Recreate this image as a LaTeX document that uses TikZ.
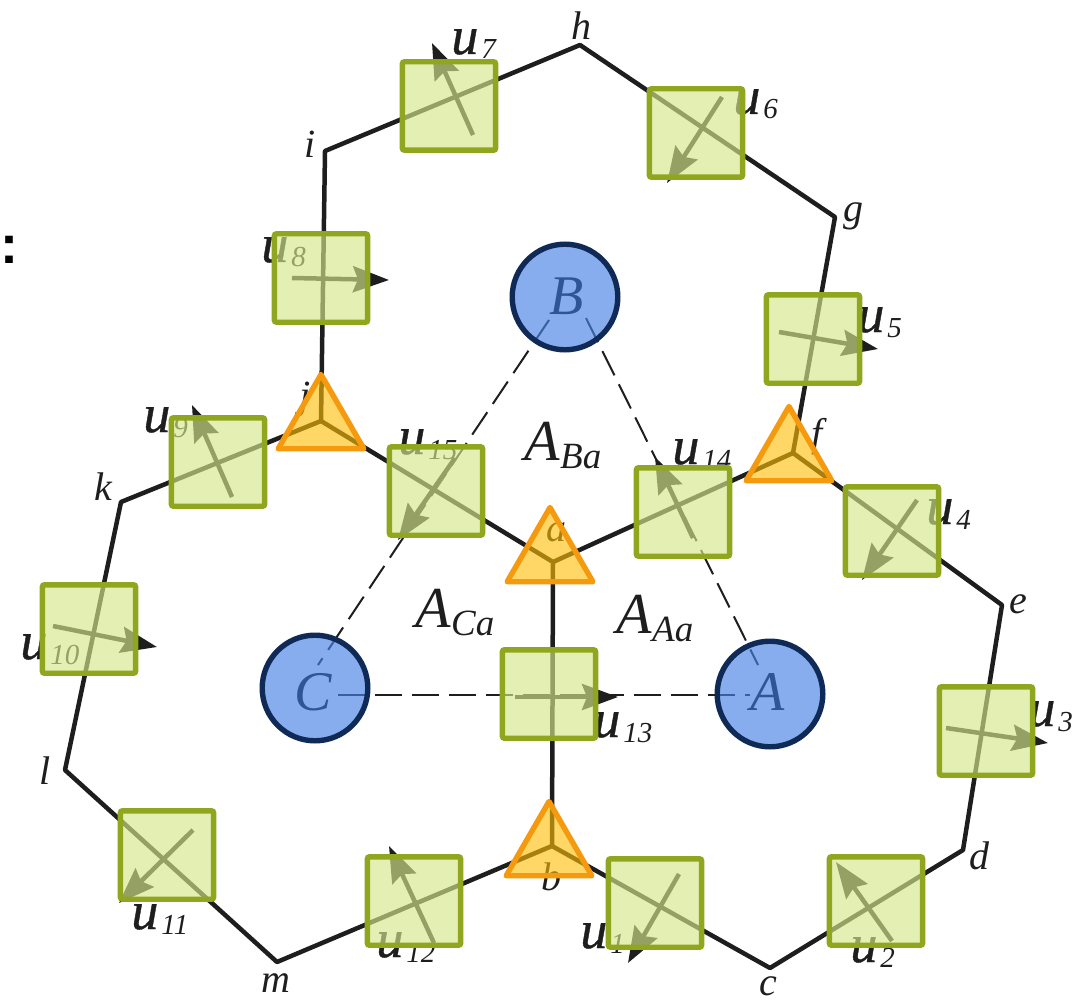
\documentclass[tikz,border=0pt]{standalone}
\usepackage{fontspec}
\setmainfont{Liberation Serif}
\setsansfont{Liberation Sans}
\newfontfamily\ufont[ItalicFeatures={FakeBold=0.7}]{Liberation Serif}
\usepackage{xcolor}
\usetikzlibrary{positioning,arrows.meta,shapes.geometric}
\definecolor{encre}{RGB}{30,30,30}
\definecolor{olive}{RGB}{143,166,30}
\definecolor{tilleul}{RGB}{212,231,138}
\definecolor{ambre}{RGB}{245,154,15}
\definecolor{miel}{RGB}{255,190,5}
\definecolor{marine}{RGB}{15,42,87}
\definecolor{azur}{RGB}{72,130,230}
\newcommand{\ulab}[1]{{\fontsize{27}{27}\selectfont\ufont\itshape u}\hspace{1.5pt}{\fontsize{14.5}{15}\selectfont\itshape\raisebox{-2.5pt}{#1}}}
\newcommand{\alab}[1]{{\fontsize{29}{29}\selectfont\itshape A}{\fontsize{18.5}{19}\selectfont\itshape\raisebox{-4pt}{#1}}}

\begin{document}
\begin{tikzpicture}[x=0.5pt, y=-0.5pt,
  tr/.style={line width=2.25pt, draw=encre, line join=round},
  ti/.style={dash pattern=on 13.5pt off 5pt, line width=1pt, draw=encre},
  fl/.style={-{Stealth[length=18pt,width=13pt,inset=2.5pt]}, line width=2.25pt, draw=encre},
  lab/.style={font=\fontsize{20}{20}\selectfont\itshape, text=encre, inner sep=0pt},
  ul/.style={anchor=base west, text=encre, inner sep=0pt},
  sq/.style={rectangle, draw=olive, fill=tilleul, fill opacity=0.65, line width=2.7pt,
             rounded corners=1pt, minimum width=46.6pt, minimum height=44.2pt, inner sep=0pt, outer sep=0pt},
  tg/.style={regular polygon, regular polygon sides=3, draw=ambre, fill=miel, fill opacity=0.61,
             line width=2.7pt, line join=round, minimum size=49.5pt, inner sep=0pt, outer sep=0pt},
  ci/.style={circle, draw=marine, fill=azur, fill opacity=0.655, line width=2.7pt,
             minimum size=52.8pt, inner sep=0pt, outer sep=0pt}]
\useasboundingbox (0,0) rectangle (1081,1000);

% sommets du contour
\coordinate (h) at (580,45);
\coordinate (g) at (835,217);
\coordinate (f) at (793,453);
\coordinate (e) at (1002,605);
\coordinate (d) at (963,850);
\coordinate (c) at (770,968);
\coordinate (b) at (552,846);
\coordinate (m) at (277,962);
\coordinate (l) at (65,770);
\coordinate (k) at (121,502);
\coordinate (j) at (321,421);
\coordinate (i) at (325,151);
\coordinate (a) at (553,562);

% contour et branches
\draw[tr] (h) -- (g) -- (f) -- (e) -- (d) -- (c) -- (b) -- (m) -- (l) -- (k) -- (j) -- (i) -- cycle;
\draw[tr] (j) -- (a) -- (f);
\draw[tr] (a) -- (b);

% pointilles entre B, C et A
\coordinate (dBC) at (549,320);
\coordinate (dCB) at (318,665);
\coordinate (dBA) at (586,318);
\coordinate (dAB) at (758,665);
\coordinate (dCA) at (338,695);
\coordinate (dAC) at (750,695);
\draw[ti] (dBC) -- (dCB);
\draw[ti] (dBA) -- (dAB);
\draw[ti] (dCA) -- (dAC);

% fleches u
\coordinate (t1) at (679,874);   \coordinate (p1) at (628,963);
\coordinate (t2) at (892,941);   \coordinate (p2) at (836,862);
\coordinate (t3) at (946,728);   \coordinate (p3) at (1048,743);
\coordinate (t4) at (917,500);   \coordinate (p4) at (862,580);
\coordinate (t5) at (779,332);   \coordinate (p5) at (878,349);
\coordinate (t6) at (722,97);    \coordinate (p6) at (667,183);
\coordinate (t7) at (473,135);   \coordinate (p7) at (432,43);
\coordinate (t8) at (292,278);   \coordinate (p8) at (389,280);
\coordinate (t9) at (232,497);   \coordinate (p9) at (192,405);
\coordinate (t10) at (53,626);   \coordinate (p10) at (157,647);
\coordinate (t11) at (193,830);  \coordinate (p11) at (119,903);
\coordinate (t12) at (434,943);  \coordinate (p12) at (389,846);
\coordinate (t13) at (515,697);  \coordinate (p13) at (618,697);
\coordinate (t14) at (693,538);  \coordinate (p14) at (655,457);
\coordinate (t15) at (455,458);  \coordinate (p15) at (398,540);
\draw[fl] (t1) -- (p1);
\draw[fl] (t2) -- (p2);
\draw[fl] (t3) -- (p3);
\draw[fl] (t4) -- (p4);
\draw[fl] (t5) -- (p5);
\draw[fl] (t6) -- (p6);
\draw[fl] (t7) -- (p7);
\draw[fl] (t8) -- (p8);
\draw[fl] (t9) -- (p9);
\draw[fl] (t10) -- (p10);
\draw[fl] (t11) -- (p11);
\draw[fl] (t12) -- (p12);
\draw[fl] (t13) -- (p13);
\draw[fl] (t14) -- (p14);
\draw[fl] (t15) -- (p15);

% etiquettes des sommets
\node[lab] (lh) at (581,26) {h};
\node[lab] (li) at (310,144) {i};
\node[lab] (lg) at (853,216) {g};
\node[lab] (lf) at (817,437) {f};
\node[lab] (le) at (1018,604) {e};
\node[lab] (ld) at (979,856) {d};
\node[lab] (lc) at (768,986) {c};
\node[lab] (lb) at (551,877) {b};
\node[lab] (lm) at (276,983) {m};
\node[lab] (ll) at (45,771) {l};
\node[lab] (lk) at (103,487) {k};
\node[lab] (lj) at (305,400) {j};
\node[lab] (la) at (556,532) {a};

% etiquettes u
\node[ul] (lu1) at (580,948) {\ulab{1}};
\node[ul] (lu2) at (850,962) {\ulab{2}};
\node[ul] (lu3) at (1028,726) {\ulab{3}};
\node[ul] (lu4) at (926,524) {\ulab{4}};
\node[ul] (lu5) at (857,332) {\ulab{5}};
\node[ul] (lu6) at (733,114) {\ulab{6}};
\node[ul] (lu7) at (451,54) {\ulab{7}};
\node[ul] (lu8) at (261,262) {\ulab{8}};
\node[ul] (lu9) at (143,432) {\ulab{9}};
\node[ul] (lu10) at (20,659) {\ulab{10}};
\node[ul] (lu11) at (131,929) {\ulab{11}};
\node[ul] (lu12) at (376,957) {\ulab{12}};
\node[ul] (lu13) at (593,737) {\ulab{13}};
\node[ul] (lu14) at (672,464) {\ulab{14}};
\node[ul] (lu15) at (398,454) {\ulab{15}};

% aires
\node[text=encre, inner sep=0pt] (aBa) at (563,446) {\alab{Ba}};
\node[text=encre, inner sep=0pt] (aCa) at (455,613) {\alab{Ca}};
\node[text=encre, inner sep=0pt] (aAa) at (655,619) {\alab{Aa}};

% lettres des cercles
\node[font=\fontsize{28}{28}\selectfont\itshape, inner sep=0pt] (lB) at (567,296) {B};
\node[font=\fontsize{28}{28}\selectfont\itshape, inner sep=0pt] (lC) at (313,692) {C};
\node[font=\fontsize{28}{28}\selectfont\itshape, inner sep=0pt] (lA) at (768,692) {A};

% boites u
\node[sq] (su1) at (655,903) {};
\node[sq] (su2) at (876,901) {};
\node[sq] (su3) at (986,731) {};
\node[sq] (su4) at (892,531) {};
\node[sq] (su5) at (813,339) {};
\node[sq] (su6) at (696,133) {};
\node[sq] (su7) at (449,106) {};
\node[sq] (su8) at (321,278) {};
\node[sq] (su9) at (218,462) {};
\node[sq] (su10) at (89,629) {};
\node[sq] (su11) at (167,855) {};
\node[sq] (su12) at (414,901) {};
\node[sq] (su13) at (549,694) {};
\node[sq] (su14) at (683,512) {};
\node[sq] (su15) at (436,491) {};

% jonctions
\node[tg] (ta) at (550,557) {};
\node[tg] (tb) at (549,851) {};
\node[tg] (tf) at (789,456) {};
\node[tg] (tj) at (321,424) {};

% cercles
\node[ci] (cB) at (565,297) {};
\node[ci] (cC) at (315,688) {};
\node[ci] (cA) at (770,694) {};

% bord gauche
\node[font=\fontsize{27}{27}\selectfont\sffamily\bfseries, inner sep=0pt] (dp) at (9,250) {:};
\end{tikzpicture}
\end{document}
